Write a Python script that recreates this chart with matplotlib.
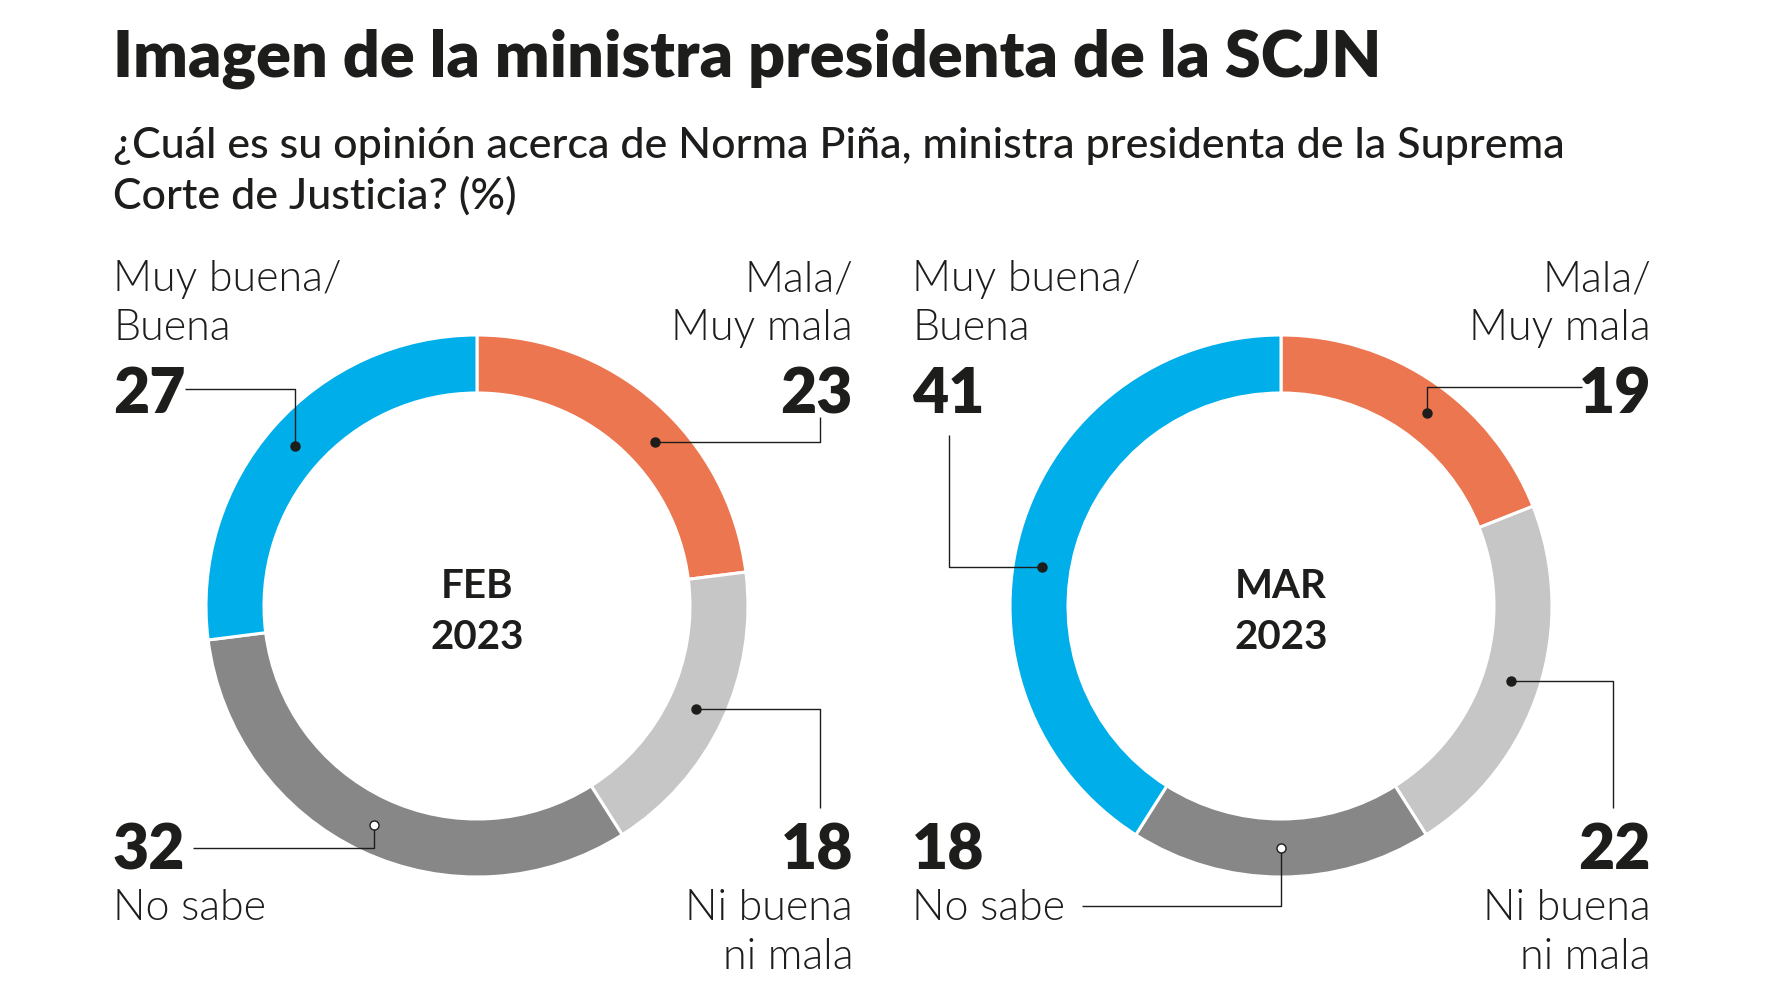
import numpy as np
import matplotlib
matplotlib.use("Agg")
import matplotlib.pyplot as plt

# === Data ===
categories = ["Mala/\nMuy mala", "Ni buena\nni mala", "No sabe", "Muy buena/\nBuena"]
colors = ["#EC7650", "#C6C6C6", "#878787", "#00AEEA"]
periods = ["FEB\n2023", "MAR\n2023"]
feb_values = [23, 18, 32, 27]
mar_values = [19, 22, 18, 41]

title = "Imagen de la ministra presidenta de la SCJN"
subtitle = ("¿Cuál es su opinión acerca de Norma Piña, ministra presidenta de la Suprema\n"
            "Corte de Justicia? (%)")

# === Layout (pixels, y measured from top) ===
W, H = 1776, 1000
FONT = "Lato"
INK = "#1d1d1b"
centers = [(477, 606), (1281, 606)]
label_x = [(113, 853), (912, 1651)]
R_OUT, RING = 271, 58
LINE_H = 49

# leader routes per chart, per category: (first move, elbow x, end y) relative to centre
leaders = [
    [("h", 343, -189), ("h", 343, 202), ("v", -284, 242), ("v", -292, -217)],
    [("v", 301, -219), ("h", 332, 202), ("v", -199, 300), ("h", -332, -171)],
]
# small nudges of the leader dot along the ring (degrees, clockwise)
nudges = [[6, 0, 0, 0], [3, 0, 0, -7]]


def up(y):
    return H - y


fig = plt.figure(figsize=(W / 100, H / 100), dpi=100)
ax = fig.add_axes([0, 0, 1, 1])

for k, values in enumerate([feb_values, mar_values]):
    cx, cy = centers[k]
    ax.pie(values, colors=colors, startangle=90, counterclock=False,
           center=(cx, up(cy)), radius=R_OUT,
           wedgeprops=dict(width=RING, edgecolor="white", linewidth=2.2))

    # centre label
    for j, line in enumerate(periods[k].split("\n")):
        ax.text(cx, up(cy - 8 + j * 51), line, ha="center", va="baseline", fontsize=29,
                fontweight=700, family=FONT, color=INK)

    cum = np.cumsum([0] + values)
    r_mid = R_OUT - RING / 2
    for i, v in enumerate(values):
        ang = (cum[i] + cum[i + 1]) / 2 / 100 * 360 + nudges[k][i]
        th = np.deg2rad(90 - ang)
        dx, dy = r_mid * np.cos(th), -r_mid * np.sin(th)
        kind, ex, ey = leaders[k][i]
        if kind == "h":
            pts = [(dx, dy), (ex, dy), (ex, ey)]
        else:
            pts = [(dx, dy), (dx, ey), (ex, ey)]
        xs = [cx + p[0] for p in pts]
        ys = [up(cy + p[1]) for p in pts]
        ax.plot(xs, ys, color=INK, lw=1.0, zorder=4, solid_capstyle="butt")
        face = "white" if categories[i] == "No sabe" else INK
        ax.plot(xs[0], ys[0], marker="o", ms=6.5, mfc=face, mec=INK, mew=1.0, zorder=5)

        # numbers and category names
        right = i in (0, 1)
        top = i in (0, 3)
        tx = label_x[k][1] if right else label_x[k][0]
        ha = "right" if right else "left"
        lines = categories[i].split("\n")
        if top:
            ax.text(tx, up(cy - 193), str(v), ha=ha, va="baseline", fontsize=45,
                    fontweight=800, family=FONT, color=INK)
            base = cy - 266 - LINE_H * (len(lines) - 1)
        else:
            ax.text(tx, up(cy + 263), str(v), ha=ha, va="baseline", fontsize=45,
                    fontweight=800, family=FONT, color=INK)
            base = cy + 314
        for j, line in enumerate(lines):
            ax.text(tx, up(base + j * LINE_H), line, ha=ha, va="baseline", fontsize=31,
                    fontweight=300, family=FONT, color=INK)

# titles
fig.text(113 / W, 1 - 77 / H, title, ha="left", va="baseline", fontsize=46.5,
         fontweight=800, family=FONT, color=INK)
for j, line in enumerate(subtitle.split("\n")):
    fig.text(113 / W, 1 - (158 + j * 51) / H, line, ha="left", va="baseline", fontsize=31,
             fontweight=500, family=FONT, color=INK)

ax.set_xlim(0, W)
ax.set_ylim(0, H)
ax.set_aspect("equal")
ax.axis("off")

fig.savefig("out.png", dpi=100, facecolor="white")
